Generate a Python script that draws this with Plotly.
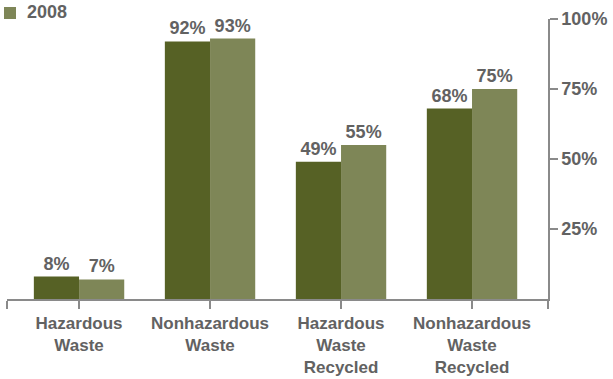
import plotly.graph_objects as go

# Waste categories and their share values (percent)
categories = ["Hazardous<br>Waste", "Nonhazardous<br>Waste",
              "Hazardous<br>Waste<br>Recycled", "Nonhazardous<br>Waste<br>Recycled"]
values_2007 = [8, 92, 49, 68]
values_2008 = [7, 93, 55, 75]
y_ticks = [25, 50, 75, 100]

x_pos = list(range(len(categories)))
x_range = [-0.55, 3.58]

text_color = "#626262"
axis_color = "#8a8a8a"
color_2007 = "#566125"
color_2008 = "#7e8657"
font_family = "Liberation Sans, Arial, Helvetica, sans-serif"
bold18 = dict(size=18, color=text_color, family=font_family, weight="bold")
bold17 = dict(size=17, color=text_color, family=font_family, weight="bold")

# plot area in pixels (left, right, top, bottom)
L, R, T, B = 7, 548, 19, 299
W, H = 613, 379


def px_x(p):
    return (p - L) / (R - L)


def px_y(p):
    return (B - p) / (B - T)


fig = go.Figure()
fig.add_trace(go.Bar(
    x=x_pos, y=values_2007, name="2007", showlegend=False,
    marker=dict(color=color_2007, line=dict(width=0)),
    text=[f"{v}%" for v in values_2007], texttemplate="%{text}",
    textposition="outside", textfont=bold18, cliponaxis=False,
))
fig.add_trace(go.Bar(
    x=x_pos, y=values_2008, name="2008", showlegend=False,
    marker=dict(color=color_2008, line=dict(width=0)),
    text=[f"{v}%" for v in values_2008], texttemplate="%{text}",
    textposition="outside", textfont=bold18, cliponaxis=False,
))

# legend key for the 2008 series
fig.add_shape(type="rect", xref="paper", yref="paper",
              x0=px_x(4), x1=px_x(16), y0=px_y(19), y1=px_y(7),
              fillcolor=color_2008, line=dict(width=0))
fig.add_annotation(xref="paper", yref="paper", x=px_x(25), y=px_y(12),
                   xanchor="left", yanchor="middle", showarrow=False,
                   text=fig.data[1].name, font=bold18)

fig.update_layout(
    width=W, height=H,
    margin=dict(l=L, r=W - R, t=T, b=H - B, autoexpand=False),
    barmode="group", bargap=0.31, bargroupgap=0,
    plot_bgcolor="white", paper_bgcolor="white",
    font=dict(family=font_family, size=18, color=text_color, weight="bold"),
    showlegend=False,
    xaxis=dict(
        range=x_range, showgrid=False, zeroline=False,
        showline=True, linecolor=axis_color, linewidth=1.5,
        ticks="outside", ticklen=8, tickcolor=axis_color, tickwidth=1.5,
        tickvals=[x_range[0]] + x_pos + [x_range[1]],
        ticktext=[""] + categories + [""],
        tickfont=bold17,
    ),
    yaxis=dict(
        range=[0, 100], side="right", showgrid=False, zeroline=False,
        showline=True, linecolor=axis_color, linewidth=1.5,
        ticks="outside", ticklen=8, tickcolor=axis_color, tickwidth=1.5,
        tickvals=y_ticks, ticktext=[f"{v}%" for v in y_ticks],
        tickfont=bold18,
    ),
)

fig.write_html("out.html")
